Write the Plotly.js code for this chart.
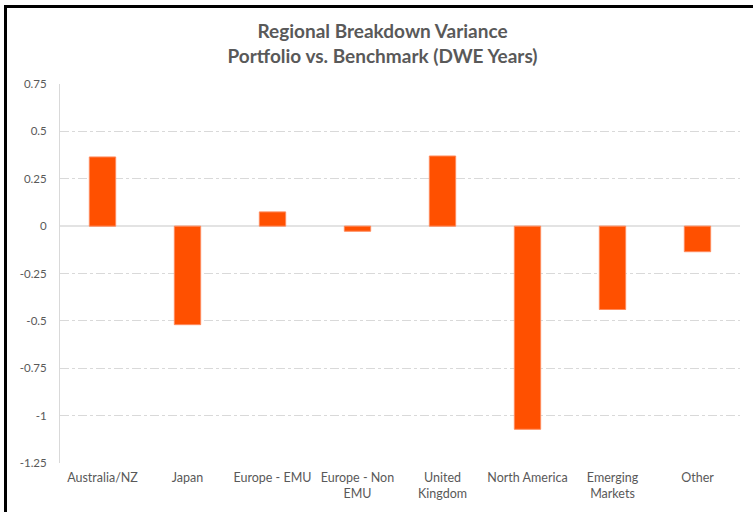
<!DOCTYPE html>
<html>
<head>
<meta charset="utf-8">
<script src="https://cdn.plot.ly/plotly-3.0.1.min.js"></script>
<style>
html,body{margin:0;padding:0;background:#fff;}
#wrap{position:relative;width:753px;height:512px;}
#chart{width:753px;height:512px;}
#frame{position:absolute;left:4px;top:5px;width:760px;height:520px;border-left:3px solid #000;border-top:3px solid #000;pointer-events:none;}
</style>
</head>
<body>
<div id="wrap"><div id="chart"></div><div id="frame"></div></div>
<script>
const categories = ["Australia/NZ","Japan","Europe - EMU","Europe - Non<br>EMU","United<br>Kingdom","North America","Emerging<br>Markets","Other"];
const variance = [0.365, -0.52, 0.075, -0.027, 0.37, -1.072, -0.44, -0.135];
const yTickVals = [0.75, 0.5, 0.25, 0, -0.25, -0.5, -0.75, -1, -1.25];
const yTickText = ["0.75","0.5","0.25","0","-0.25","-0.5","-0.75","-1","-1.25"];

const trace = {
  type: "bar",
  x: categories,
  y: variance,
  marker: {color: "#FF5000", line: {color: "#FF8A5C", width: 1}},
  hoverinfo: "x+y"
};

const layout = {
  width: 753, height: 512,
  margin: {l: 60, r: 13, t: 84, b: 49},
  paper_bgcolor: "#fff", plot_bgcolor: "#fff",
  font: {family: "Lato, sans-serif", size: 11, color: "#595959"},
  title: {
    text: "<b>Regional Breakdown Variance<br>Portfolio vs. Benchmark (DWE Years)</b>",
    font: {family: "Lato, sans-serif", size: 19, color: "#595959"},
    x: 0.508, xanchor: "center", y: 0.925, yanchor: "top"
  },
  bargap: 0.69,
  showlegend: false,
  xaxis: {
    type: "category",
    showgrid: false, showline: false, zeroline: false,
    ticks: "", ticklabelstandoff: 5,
    tickfont: {family: "Lato, sans-serif", size: 12.5, color: "#595959"}
  },
  yaxis: {
    range: [-1.25, 0.75],
    tickvals: yTickVals, ticktext: yTickText,
    showgrid: true, gridcolor: "#d9d9d9", gridwidth: 1, griddash: "dashdot",
    zeroline: true, zerolinecolor: "#e3e3e3", zerolinewidth: 2,
    showline: true, linecolor: "#d9d9d9", linewidth: 1,
    ticks: "", ticklabelstandoff: 10,
    tickfont: {family: "Lato, sans-serif", size: 11.5, color: "#595959"}
  }
};

Plotly.newPlot("chart", [trace], layout, {displayModeBar: false, staticPlot: true});
</script>
</body>
</html>
